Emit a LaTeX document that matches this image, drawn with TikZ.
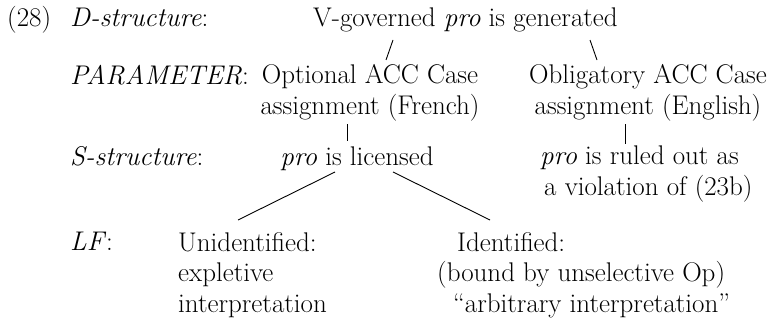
\documentclass[tikz,border=0pt]{standalone}
\usetikzlibrary{positioning,calc}

\begin{document}
\begin{tikzpicture}[x=1pt,y=1pt,
    txt/.style={inner sep=0pt,anchor=base west,
        font=\fontsize{27}{30.5}\selectfont},
    ctr/.style={txt,anchor=base,align=center},
    lft/.style={txt,align=left},
    branch/.style={line width=0.9pt}]
    \useasboundingbox (0,0) rectangle (773,-321);

    % level labels
    \node[txt] (num) at (7,-27) {(28)};
    \node[txt] (dlab) at (70,-27) {\textit{D-structure}:};
    \node[txt] (plab) at (70,-84) {\textit{PARAMETER}:};
    \node[txt] (slab) at (70,-165) {\textit{S-structure}:};
    \node[txt] (lflab) at (70,-250) {\textit{LF}:};

    % tree (multi-line nodes sit on their last line)
    \node[txt] (gen) at (313,-27) {V-governed \textit{pro} is generated};
    \node[ctr] (opt) at (370,-114) {Optional ACC Case\\assignment (French)};
    \node[ctr] (obl) at (648,-114) {Obligatory ACC Case\\assignment (English)};
    \node[ctr] (lic) at (357,-165) {\textit{pro} is licensed};
    \node[lft] (out) at (540,-195) {\textit{pro} is ruled out as\\\hspace*{4pt}a violation of (23b)};
    \node[lft] (unid) at (178,-312) {Unidentified:\\expletive\\interpretation};
    \node[lft] (iden) at (437,-312) {\hspace*{20pt}Identified:\\(bound by unselective Op)\\\hspace*{16pt}“arbitrary interpretation”};

    \draw[branch] ($(gen.base west)+(80,-13)$) -- ($(opt.base)+(16,54)$);
    \draw[branch] ($(gen.base west)+(277,-13)$) -- ($(obl.base)+(-51,54)$);
    \draw[branch] ($(opt.base)+(-23,-10)$) -- ($(lic.base)+(-10,24)$);
    \draw[branch] ($(obl.base)+(-23,-10)$) -- ($(out.base west)+(85,51)$);
    \draw[branch] ($(lic.base)+(-22,-7)$) -- ($(unid.base west)+(60,92)$);
    \draw[branch] ($(lic.base)+(36,-7)$) -- ($(iden.base west)+(53,92)$);
\end{tikzpicture}
\end{document}
